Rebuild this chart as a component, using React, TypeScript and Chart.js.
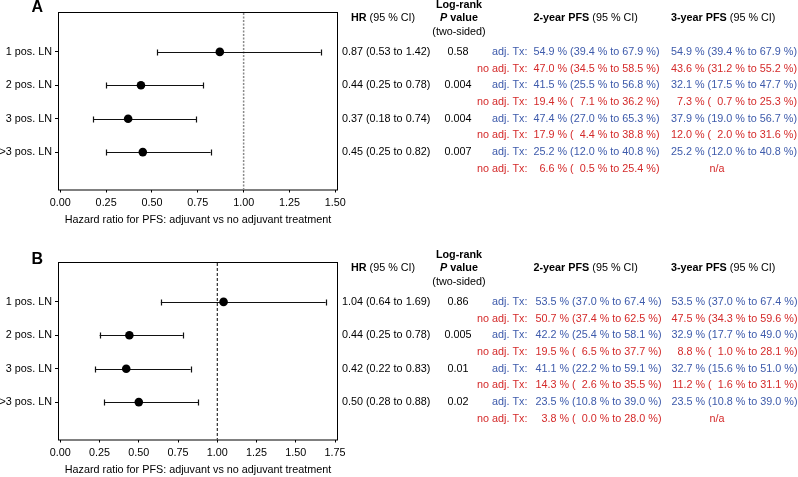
import React, { useEffect, useRef } from 'react';
import { Chart, registerables } from 'chart.js';
Chart.register(...registerables);

// ---------- data ----------
const rowLabels = ['1 pos. LN', '2 pos. LN', '3 pos. LN', '>3 pos. LN'];
const axisTitle = 'Hazard ratio for PFS: adjuvant vs no adjuvant treatment';

// Panel A
const hrA = [0.87, 0.44, 0.37, 0.45];
const hrLowA = [0.53, 0.25, 0.18, 0.25];
const hrHighA = [1.42, 0.78, 0.74, 0.82];
const pValueA = ['0.58', '0.004', '0.004', '0.007'];
const pfs2AdjA = [[54.9, 39.4, 67.9], [41.5, 25.5, 56.8], [47.4, 27.0, 65.3], [25.2, 12.0, 40.8]];
const pfs2NoAdjA = [[47.0, 34.5, 58.5], [19.4, 7.1, 36.2], [17.9, 4.4, 38.8], [6.6, 0.5, 25.4]];
const pfs3AdjA = [[54.9, 39.4, 67.9], [32.1, 17.5, 47.7], [37.9, 19.0, 56.7], [25.2, 12.0, 40.8]];
const pfs3NoAdjA = [[43.6, 31.2, 55.2], [7.3, 0.7, 25.3], [12.0, 2.0, 31.6], null];
const xTicksA = [0, 0.25, 0.5, 0.75, 1, 1.25, 1.5];

// Panel B
const hrB = [1.04, 0.44, 0.42, 0.5];
const hrLowB = [0.64, 0.25, 0.22, 0.28];
const hrHighB = [1.69, 0.78, 0.83, 0.88];
const pValueB = ['0.86', '0.005', '0.01', '0.02'];
const pfs2AdjB = [[53.5, 37.0, 67.4], [42.2, 25.4, 58.1], [41.1, 22.2, 59.1], [23.5, 10.8, 39.0]];
const pfs2NoAdjB = [[50.7, 37.4, 62.5], [19.5, 6.5, 37.7], [14.3, 2.6, 35.5], [3.8, 0.0, 28.0]];
const pfs3AdjB = [[53.5, 37.0, 67.4], [32.9, 17.7, 49.0], [32.7, 15.6, 51.0], [23.5, 10.8, 39.0]];
const pfs3NoAdjB = [[47.5, 34.3, 59.6], [8.8, 1.0, 28.1], [11.2, 1.6, 31.1], null];
const xTicksB = [0, 0.25, 0.5, 0.75, 1, 1.25, 1.5, 1.75];

// ---------- styling ----------
const FAMILY = '"Liberation Sans", Arial, Helvetica, sans-serif';
const FS = 10.8;
const fNormal = `${FS}px ${FAMILY}`;
const fBold = `bold ${FS}px ${FAMILY}`;
const fBoldItalic = `italic bold ${FS}px ${FAMILY}`;
const BLUE = '#3d5aab';
const RED = '#d42a2a';

type Triple = number[] | null;
interface Panel {
  letter: string;
  letterBaseline: number;
  hr: number[];
  lo: number[];
  hi: number[];
  p: string[];
  pfs2Adj: Triple[];
  pfs2No: Triple[];
  pfs3Adj: Triple[];
  pfs3No: Triple[];
  xTicks: number[];
  xMin: number;
  xMax: number;
  refColor: string;
  refWidth: number;
  refDash: number[];
  col2Right: number;
  col3Right: number;
}

const panels: Panel[] = [
  {
    letter: 'A', letterBaseline: 11.5,
    hr: hrA, lo: hrLowA, hi: hrHighA, p: pValueA,
    pfs2Adj: pfs2AdjA, pfs2No: pfs2NoAdjA, pfs3Adj: pfs3AdjA, pfs3No: pfs3NoAdjA,
    xTicks: xTicksA, xMin: -0.0125, xMax: 1.5147,
    refColor: '#8a8a8a', refWidth: 1.5, refDash: [2, 1.5],
    col2Right: 659.5, col3Right: 797,
  },
  {
    letter: 'B', letterBaseline: 13.5,
    hr: hrB, lo: hrLowB, hi: hrHighB, p: pValueB,
    pfs2Adj: pfs2AdjB, pfs2No: pfs2NoAdjB, pfs3Adj: pfs3AdjB, pfs3No: pfs3NoAdjB,
    xTicks: xTicksB, xMin: -0.0146, xMax: 1.769,
    refColor: '#000000', refWidth: 1, refDash: [3, 2],
    col2Right: 661.5, col3Right: 797.5,
  },
];

const pad = (v: number) => (v < 10 ? '  ' : '') + v.toFixed(1);
const fmtPfs = (t: Triple) =>
  t ? `${t[0].toFixed(1)} % (${pad(t[1])} % to ${t[2].toFixed(1)} %)` : null;
const fmtHr = (h: number, l: number, u: number) =>
  `${h.toFixed(2)} (${l.toFixed(2)} to ${u.toFixed(2)})`;

function drawRuns(ctx: CanvasRenderingContext2D, x: number, y: number, runs: [string, string][], align: 'left' | 'center') {
  let total = 0;
  runs.forEach(([t, f]) => { ctx.font = f; total += ctx.measureText(t).width; });
  let cx = align === 'center' ? x - total / 2 : x;
  ctx.textAlign = 'left';
  runs.forEach(([t, f]) => { ctx.font = f; ctx.fillText(t, cx, y); cx += ctx.measureText(t).width; });
}

function makePlugin(panel: Panel) {
  return {
    id: 'forest' + panel.letter,
    beforeDatasetsDraw(chart: any) {
      const { ctx, chartArea } = chart;
      const xs = chart.scales.x;
      const ys = chart.scales.y;
      ctx.save();
      // box
      ctx.strokeStyle = '#000';
      ctx.lineWidth = 1;
      ctx.setLineDash([]);
      ctx.strokeRect(chartArea.left + 0.5, chartArea.top + 0.5, chartArea.right - chartArea.left - 1, chartArea.bottom - chartArea.top);
      // reference line at HR = 1
      const rx = xs.getPixelForValue(1);
      ctx.strokeStyle = panel.refColor;
      ctx.lineWidth = panel.refWidth;
      ctx.setLineDash(panel.refDash);
      ctx.beginPath();
      ctx.moveTo(rx, chartArea.top + 1);
      ctx.lineTo(rx, chartArea.bottom);
      ctx.stroke();
      ctx.setLineDash([]);
      // error bars
      ctx.strokeStyle = '#111';
      ctx.lineWidth = 1.2;
      panel.hr.forEach((_, i) => {
        const y = Math.round(ys.getPixelForValue(i + 1)) + 0.5;
        const x1 = xs.getPixelForValue(panel.lo[i]);
        const x2 = xs.getPixelForValue(panel.hi[i]);
        ctx.beginPath();
        ctx.moveTo(x1, y); ctx.lineTo(x2, y);
        ctx.moveTo(Math.round(x1) + 0.5, y - 3); ctx.lineTo(Math.round(x1) + 0.5, y + 3);
        ctx.moveTo(Math.round(x2) + 0.5, y - 3); ctx.lineTo(Math.round(x2) + 0.5, y + 3);
        ctx.stroke();
      });
      ctx.restore();
    },
    afterDraw(chart: any) {
      const { ctx, chartArea } = chart;
      const ys = chart.scales.y;
      const top = chartArea.top;
      ctx.save();
      ctx.fillStyle = '#000';
      // panel letter
      ctx.font = `bold 16px ${FAMILY}`;
      ctx.textBaseline = 'alphabetic';
      ctx.textAlign = 'left';
      ctx.fillText(panel.letter, 31.5, panel.letterBaseline);
      ctx.textBaseline = 'middle';
      // headers
      drawRuns(ctx, 351, top + 6.3, [['HR', fBold], [' (95 % CI)', fNormal]], 'left');
      drawRuns(ctx, 459, top - 7, [['Log-rank', fBold]], 'center');
      drawRuns(ctx, 459, top + 6.3, [['P', fBoldItalic], [' value', fBold]], 'center');
      drawRuns(ctx, 459, top + 19.7, [['(two-sided)', fNormal]], 'center');
      drawRuns(ctx, 533.5, top + 6.3, [['2-year PFS', fBold], [' (95 % CI)', fNormal]], 'left');
      drawRuns(ctx, 671, top + 6.3, [['3-year PFS', fBold], [' (95 % CI)', fNormal]], 'left');
      // rows
      panel.hr.forEach((h, i) => {
        const y1 = ys.getPixelForValue(i + 1);
        const y2 = ys.getPixelForValue(i + 1.5);
        ctx.font = fNormal;
        ctx.fillStyle = '#000';
        ctx.textAlign = 'left';
        ctx.fillText(fmtHr(h, panel.lo[i], panel.hi[i]), 342, y1);
        ctx.textAlign = 'center';
        ctx.fillText(panel.p[i], 458, y1);
        // adj
        ctx.fillStyle = BLUE;
        ctx.textAlign = 'right';
        ctx.fillText('adj. Tx:', 527.5, y1);
        ctx.fillText(fmtPfs(panel.pfs2Adj[i]) as string, panel.col2Right, y1);
        const a3 = fmtPfs(panel.pfs3Adj[i]);
        if (a3) ctx.fillText(a3, panel.col3Right, y1);
        else { ctx.textAlign = 'center'; ctx.fillText('n/a', 717, y1); }
        // no adj
        ctx.fillStyle = RED;
        ctx.textAlign = 'right';
        ctx.fillText('no adj. Tx:', 527.5, y2);
        ctx.fillText(fmtPfs(panel.pfs2No[i]) as string, panel.col2Right, y2);
        const n3 = fmtPfs(panel.pfs3No[i]);
        if (n3) ctx.fillText(n3, panel.col3Right, y2);
        else { ctx.textAlign = 'center'; ctx.fillText('n/a', 717, y2); }
      });
      ctx.restore();
    },
  };
}

function ForestPanel({ panel, top }: { panel: Panel; top: number }) {
  const ref = useRef<HTMLCanvasElement>(null);
  useEffect(() => {
    if (!ref.current) return;
    const chart = new Chart(ref.current, {
      type: 'scatter',
      data: {
        datasets: [
          {
            data: panel.hr.map((v, i) => ({ x: v, y: i + 1 })),
            pointRadius: 4.3,
            pointHoverRadius: 4.3,
            backgroundColor: '#000',
            borderColor: '#000',
            borderWidth: 0,
            clip: false as any,
          },
        ],
      },
      options: {
        responsive: false,
        animation: false,
        events: [],
        devicePixelRatio: 1,
        layout: { padding: { left: 0, right: 460, top: 12, bottom: 0 } },
        plugins: { legend: { display: false }, tooltip: { enabled: false }, title: { display: false } },
        scales: {
          x: {
            type: 'linear',
            min: panel.xMin,
            max: panel.xMax,
            afterBuildTicks: (axis: any) => { axis.ticks = panel.xTicks.map((v) => ({ value: v })); },
            afterFit: (axis: any) => { axis.height = 37.5; },
            grid: { drawOnChartArea: false, drawTicks: true, tickLength: 3, color: '#000', lineWidth: 1 },
            border: { display: false },
            ticks: {
              color: '#000',
              font: { family: FAMILY, size: FS },
              padding: 4.5,
              maxRotation: 0,
              autoSkip: false,
              callback: (v: any) => Number(v).toFixed(2),
            },
            title: {
              display: true,
              text: axisTitle,
              color: '#000',
              font: { family: FAMILY, size: FS },
              padding: { top: 0, bottom: 0 },
            },
          },
          y: {
            type: 'linear',
            reverse: true,
            min: -0.194,
            max: 5.119,
            afterBuildTicks: (axis: any) => { axis.ticks = rowLabels.map((_, i) => ({ value: i + 1 })); },
            afterFit: (axis: any) => { axis.width = 58; },
            grid: { drawOnChartArea: false, drawTicks: true, tickLength: 3, color: '#000', lineWidth: 1 },
            border: { display: false },
            ticks: {
              color: '#000',
              font: { family: FAMILY, size: FS },
              padding: 3,
              autoSkip: false,
              callback: (v: any) => rowLabels[Math.round(Number(v)) - 1] ?? '',
            },
          },
        },
      } as any,
      plugins: [makePlugin(panel)],
    });
    return () => chart.destroy();
  }, [panel]);
  return (
    <canvas
      ref={ref}
      width={798}
      height={227}
      style={{ position: 'absolute', left: 0, top, width: 798, height: 227 }}
    />
  );
}

export default function App() {
  return (
    <div style={{ position: 'fixed', left: 0, top: 0, width: 798, height: 477, background: '#fff', overflow: 'hidden' }}>
      <ForestPanel panel={panels[0]} top={0} />
      <ForestPanel panel={panels[1]} top={250} />
    </div>
  );
}
